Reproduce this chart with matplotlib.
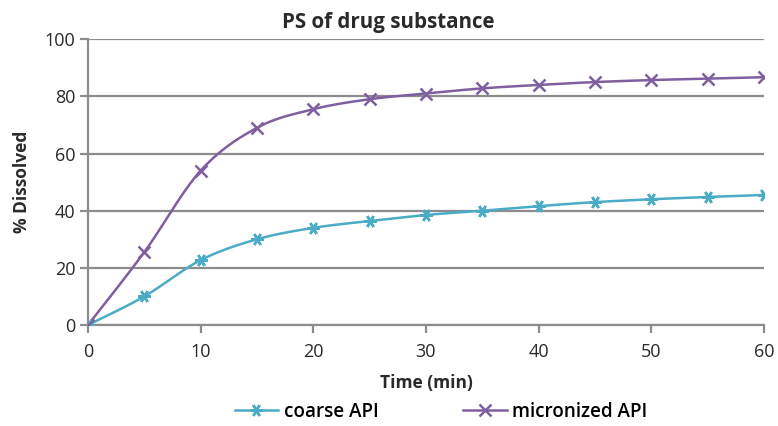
# Dissolution profiles: coarse vs micronized API
import numpy as np
import matplotlib.pyplot as plt

plt.rcParams['font.family'] = ['Open Sans', 'DejaVu Sans']

time_min = [0, 5, 10, 15, 20, 25, 30, 35, 40, 45, 50, 55, 60]
coarse = [0, 10, 22.7, 30, 34, 36.4, 38.5, 40, 41.6, 43, 44, 44.8, 45.5]
micronized = [0, 25.5, 54, 69, 75.5, 79, 81, 82.8, 84, 85, 85.7, 86.2, 86.7]

def smooth(x, y, n=20, t=0.5):
    # cardinal spline through the points, like a spreadsheet "smoothed line"
    x = np.asarray(x, float); y = np.asarray(y, float)
    px = np.concatenate([[x[0]], x, [x[-1]]])
    py = np.concatenate([[y[0]], y, [y[-1]]])
    xs, ys = [], []
    for i in range(1, len(px) - 2):
        s = np.linspace(0, 1, n, endpoint=False)
        h00 = 2*s**3 - 3*s**2 + 1; h10 = s**3 - 2*s**2 + s
        h01 = -2*s**3 + 3*s**2; h11 = s**3 - s**2
        mx0 = t*(px[i+1]-px[i-1]); mx1 = t*(px[i+2]-px[i])
        my0 = t*(py[i+1]-py[i-1]); my1 = t*(py[i+2]-py[i])
        xs.append(h00*px[i] + h10*mx0 + h01*px[i+1] + h11*mx1)
        ys.append(h00*py[i] + h10*my0 + h01*py[i+1] + h11*my1)
    xs.append([x[-1]]); ys.append([y[-1]])
    return np.concatenate(xs), np.concatenate(ys)

c_coarse = '#4bacc6'
c_micro = '#7f5f9f'
txt = '#2a2a2a'

fig = plt.figure(figsize=(7.78, 4.26), dpi=100)
ax = fig.add_axes([0.113, 0.237, 0.869, 0.671])

for y, c, m, ms, lab in [(coarse, c_coarse, (6, 2, 90), 9, 'coarse API'),
                         (micronized, c_micro, 'x', 8, 'micronized API')]:
    sx, sy = smooth(time_min, y)
    ax.plot(sx, sy, color=c, lw=1.8, zorder=3)
    ax.plot(time_min, y, linestyle='none', marker=m, ms=ms, mew=1.8,
            color=c, zorder=4)
    ax.plot([], [], color=c, lw=1.8, marker=m, ms=ms, mew=1.8, label=lab)

ax.set_xlim(0, 60)
ax.set_ylim(0, 100)
ax.set_xticks(range(0, 61, 10))
ax.set_yticks(range(0, 101, 20))
ax.yaxis.grid(True, color='#8c8c8c', lw=1.6)
ax.set_axisbelow(True)
for s in ['top', 'right']:
    ax.spines[s].set_visible(False)
for s in ['left', 'bottom']:
    ax.spines[s].set_color('#8c8c8c')
    ax.spines[s].set_linewidth(1.6)
ax.tick_params(axis='x', length=6, width=1.6, color='#8c8c8c',
               labelsize=13, labelcolor=txt, pad=7)
ax.tick_params(axis='y', length=6, width=1.6, color='#8c8c8c',
               labelsize=13, labelcolor=txt, pad=3)

fig.suptitle('PS of drug substance', x=0.499, y=0.972, fontsize=14.8,
             fontweight='bold', color=txt)
ax.set_xlabel('Time (min)', fontsize=12.5, fontweight='bold', color=txt,
              labelpad=9)
ax.set_ylabel('% Dissolved', fontsize=12.5, fontweight='bold', color=txt,
              labelpad=10)

fig.legend(loc='lower center', bbox_to_anchor=(0.567, -0.03), ncol=2,
           frameon=False, columnspacing=4.5, handlelength=2.3,
           handletextpad=0.3, prop={'size': 13.6, 'weight': 'semibold'})

fig.savefig('out.png', dpi=100)
